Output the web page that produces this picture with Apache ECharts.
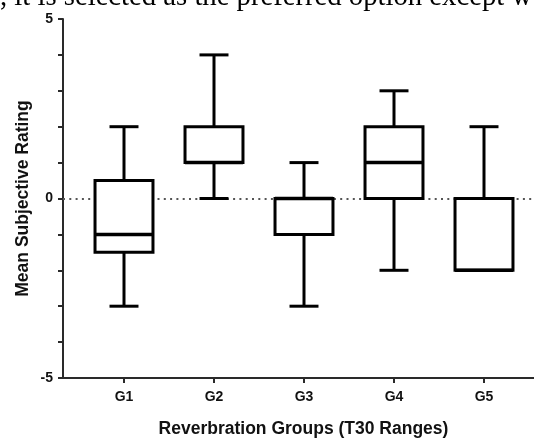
<!DOCTYPE html>
<html>
<head>
<meta charset="utf-8">
<script src="https://cdn.jsdelivr.net/npm/echarts@6/dist/echarts.min.js"></script>
<style>html,body{margin:0;padding:0;background:#fff;}#c{width:534px;height:439px;}</style>
</head>
<body>
<div id="c"></div>
<script>
// Data (min, Q1, median, Q3, max)
const categories = ['G1', 'G2', 'G3', 'G4', 'G5'];
const mins    = [-3, 0, -3, -2, -2];
const q1s     = [-1.5, 1, -1, 0, -2];
const medians = [-1, 1, 0, 1, -2];
const q3s     = [0.5, 2, 0, 2, 0];
const maxs    = [2, 4, 1, 3, 2];
const yTickLabels = [-5, 0, 5];
const headerText = ', it is selected as the preferred option except w';

const boxData = categories.map((c, i) => [i + 1, mins[i], q1s[i], medians[i], q3s[i], maxs[i]]);

const chart = echarts.init(document.getElementById('c'), null, {renderer: 'canvas'});
const axisColor = '#2a2a2a';
const font = '"Liberation Sans", Arial, sans-serif';

function renderBox(params, api) {
  const x = api.value(0);
  const band = api.size([1, 0])[0];
  const hw = band * 0.322;
  const cw = hw * 0.5;
  const pMin = api.coord([x, api.value(1)]);
  const pQ1 = api.coord([x, api.value(2)]);
  const pMed = api.coord([x, api.value(3)]);
  const pQ3 = api.coord([x, api.value(4)]);
  const pMax = api.coord([x, api.value(5)]);
  const cx = pMed[0];
  const st = {stroke: '#000', lineWidth: 3, fill: null};
  const children = [];
  if (pMax[1] < pQ3[1]) {
    children.push({type: 'line', shape: {x1: cx, y1: pMax[1], x2: cx, y2: pQ3[1]}, style: st});
    children.push({type: 'line', shape: {x1: cx - cw, y1: pMax[1], x2: cx + cw, y2: pMax[1]}, style: st});
  }
  if (pMin[1] > pQ1[1]) {
    children.push({type: 'line', shape: {x1: cx, y1: pQ1[1], x2: cx, y2: pMin[1]}, style: st});
    children.push({type: 'line', shape: {x1: cx - cw, y1: pMin[1], x2: cx + cw, y2: pMin[1]}, style: st});
  }
  children.push({type: 'rect', shape: {x: cx - hw, y: pQ3[1], width: 2 * hw, height: pQ1[1] - pQ3[1]},
    style: {stroke: '#000', lineWidth: 3, fill: '#fff'}});
  children.push({type: 'line', shape: {x1: cx - hw, y1: pMed[1], x2: cx + hw, y2: pMed[1]},
    style: {stroke: '#000', lineWidth: 3.5}});
  return {type: 'group', children};
}

const option = {
  animation: false,
  backgroundColor: '#fff',
  grid: {left: 63, right: 0, top: 19, bottom: 61, containLabel: false, outerBoundsMode: 'none'},
  graphic: [{
    type: 'text', x: 0, y: -2.5, z: 100,
    style: {text: headerText, font: '28.7px "Liberation Serif", "Times New Roman", serif', fill: '#000', verticalAlign: 'middle'}
  }],
  xAxis: {
    type: 'value',
    min: 1 - 61 / 90,
    max: 1 + (534 - 63 - 61) / 90,
    splitLine: {show: false},
    axisLine: {show: true, onZero: false, lineStyle: {color: axisColor, width: 2}},
    axisTick: {show: true, length: 5, lineStyle: {color: axisColor, width: 2}, customValues: categories.map((c, i) => i + 1)},
    axisLabel: {
      show: true, margin: 12, color: '#111', fontFamily: font, fontWeight: 'bold', fontSize: 14,
      customValues: categories.map((c, i) => i + 1),
      formatter: v => categories[Math.round(v) - 1] || ''
    },
    name: 'Reverbration Groups (T30 Ranges)',
    nameLocation: 'middle',
    nameGap: 42,
    nameMoveOverlap: false,
    nameTextStyle: {color: '#111', fontFamily: font, fontWeight: 'bold', fontSize: 17.5, padding: [0, 0, 0, 10]}
  },
  yAxis: {
    type: 'value', min: -5, max: 5, interval: 1,
    splitLine: {show: false},
    axisLine: {show: true, onZero: false, lineStyle: {color: axisColor, width: 2}},
    axisTick: {show: true, length: 5, lineStyle: {color: axisColor, width: 2}},
    axisLabel: {
      show: true, margin: 10, color: '#111', fontFamily: font, fontWeight: 'bold', fontSize: 14,
      customValues: yTickLabels
    },
    name: 'Mean Subjective Rating',
    nameLocation: 'middle',
    nameGap: 31,
    nameMoveOverlap: false,
    nameTextStyle: {color: '#111', fontFamily: font, fontWeight: 'bold', fontSize: 17.5}
  },
  series: [
    {
      type: 'line', data: [], z: 1, silent: true,
      markLine: {
        silent: true, symbol: 'none', label: {show: false}, z: 1,
        lineStyle: {color: '#555', width: 2, type: [2, 4.3]},
        data: [{yAxis: 0}]
      }
    },
    {
      type: 'custom', z: 10, renderItem: renderBox, data: boxData,
      encode: {x: 0, y: [1, 2, 3, 4, 5]}
    }
  ]
};
chart.setOption(option);
</script>
</body>
</html>
